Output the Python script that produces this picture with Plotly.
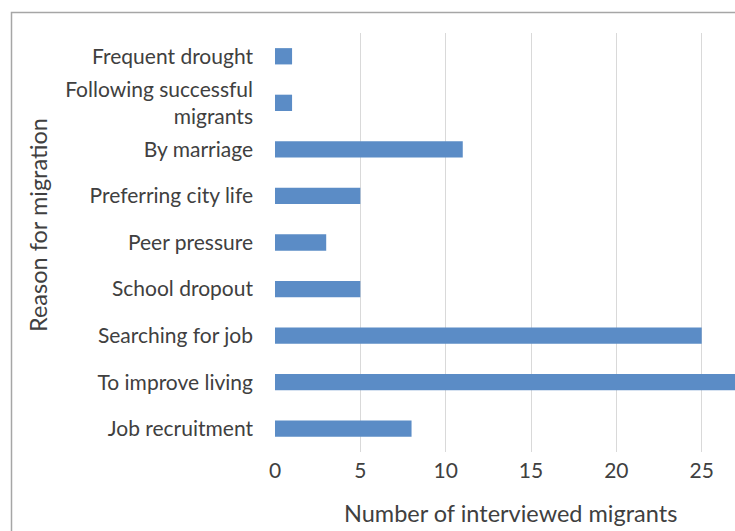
import plotly.graph_objects as go

# Reasons given by interviewed migrants (listed bottom to top)
reasons = [
    "Job recruitment",
    "To improve living",
    "Searching for job",
    "School dropout",
    "Peer pressure",
    "Preferring city life",
    "By marriage",
    "Following successful<br>migrants",
    "Frequent drought",
]
counts = [8, 29, 25, 5, 3, 5, 11, 1, 1]

x_ticks = [0, 5, 10, 15, 20, 25]

FONT = "Lato, 'Open Sans', sans-serif"
TEXT = "#404040"

fig = go.Figure(
    go.Bar(
        x=counts,
        y=reasons,
        orientation="h",
        marker=dict(color="#5B8CC6", line=dict(width=0)),
        hoverinfo="x+y",
    )
)

fig.update_layout(
    width=735,
    height=531,
    margin=dict(l=275, r=0, t=33, b=79),
    paper_bgcolor="white",
    plot_bgcolor="white",
    bargap=0.65,
    showlegend=False,
    font=dict(family=FONT, color=TEXT, size=21),
    xaxis=dict(
        range=[0, 26.95],
        tickvals=x_ticks,
        showgrid=True,
        gridcolor="#D9D9D9",
        gridwidth=1,
        zeroline=False,
        showline=False,
        ticks="",
        tickfont=dict(size=21, color=TEXT),
        ticklabelstandoff=4,
    ),
    yaxis=dict(
        categoryorder="array",
        categoryarray=reasons,
        showgrid=False,
        zeroline=False,
        showline=False,
        ticks="",
        tickfont=dict(size=21, color=TEXT),
        ticklabelstandoff=21,
    ),
    annotations=[
        dict(
            text="Number of interviewed migrants",
            xref="paper", yref="paper",
            x=(510 - 275) / 460, y=-(513 - 452) / 419,
            xanchor="center", yanchor="middle",
            showarrow=False,
            font=dict(size=23.5, color=TEXT, family=FONT),
        ),
        dict(
            text="Reason for migration",
            xref="paper", yref="paper",
            x=(38 - 275) / 460, y=1 - (225 - 33) / 419,
            xanchor="center", yanchor="middle",
            textangle=-90,
            showarrow=False,
            font=dict(size=23.5, color=TEXT, family=FONT),
        ),
    ],
    shapes=[
        # chart frame (only left and top edges fall inside the page)
        dict(
            type="rect", xref="paper", yref="paper",
            x0=(11.5 - 275) / 460, x1=1.2,
            y0=-0.5, y1=1 + (33 - 12.5) / 419,
            line=dict(color="#A6A6A6", width=1.5),
            fillcolor="rgba(0,0,0,0)",
            layer="below",
        ),
    ],
)

fig.write_html("out.html")
